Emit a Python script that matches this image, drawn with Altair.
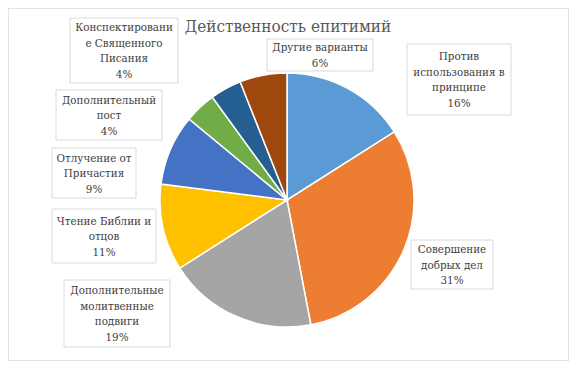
import altair as alt
import pandas as pd

# --- data ---
categories = [
    "Против использования в принципе",
    "Совершение добрых дел",
    "Дополнительные молитвенные подвиги",
    "Чтение Библии и отцов",
    "Отлучение от Причастия",
    "Дополнительный пост",
    "Конспектирование Священного Писания",
    "Другие варианты",
]
shares = [16, 31, 19, 11, 9, 4, 4, 6]
label_text = [
    "Против\nиспользования в\nпринципе",
    "Совершение\nдобрых дел",
    "Дополнительные\nмолитвенные\nподвиги",
    "Чтение Библии и\nотцов",
    "Отлучение от\nПричастия",
    "Дополнительный\nпост",
    "Конспектировани\nе Священного\nПисания",
    "Другие варианты",
]
colors = ["#5B9BD5", "#ED7D31", "#A5A5A5", "#FFC000", "#4472C4", "#70AD47", "#255E91", "#9E480E"]

# --- layout (label boxes, page pixel coords: x0, y0, x1, y1) ---
boxes = [
    (407, 44, 511, 115),
    (411, 240, 493, 289),
    (64, 280, 170, 347),
    (52, 209, 156, 263),
    (52, 148, 136, 198),
    (56, 90, 162, 140),
    (70, 18, 178, 83),
    (267, 39, 373, 71),
]
OFF = 8  # page margin
W, H = 561, 353
CX, CY, R = 287 - OFF, 200 - OFF, 127
LH = 15.5
SERIF = "DejaVu Serif Condensed"

labels = [t + "\n" + str(v) + "%" for t, v in zip(label_text, shares)]
nlines = [lab.count("\n") + 1 for lab in labels]

df = pd.DataFrame({
    "idx": list(range(len(categories))),
    "category": categories,
    "share": shares,
    "label": labels,
    "x0": [b[0] - OFF for b in boxes],
    "y0": [b[1] - OFF for b in boxes],
    "x1": [b[2] - OFF for b in boxes],
    "y1": [b[3] - OFF for b in boxes],
})
df["cx"] = (df["x0"] + df["x1"]) / 2
df["cy"] = (df["y0"] + df["y1"]) / 2 + 1 - pd.Series([(n - 1) * LH / 2 for n in nlines])

base = alt.Chart(df)

pie = base.mark_arc(outerRadius=R, stroke="white", strokeWidth=1.5).encode(
    theta=alt.Theta("share:Q", stack=True),
    order=alt.Order("idx:Q", sort="ascending"),
    color=alt.Color("category:N", scale=alt.Scale(domain=categories, range=colors), legend=None, sort=None),
    x=alt.value(CX),
    y=alt.value(CY),
)

box = base.mark_rect(fill="white", stroke="#D9D9D9", strokeWidth=1).encode(
    x=alt.X("x0:Q", scale=None),
    x2="x1:Q",
    y=alt.Y("y0:Q", scale=None),
    y2="y1:Q",
)

txt = base.mark_text(
    font=SERIF, fontSize=11.5, color="#404040",
    align="center", baseline="middle", lineBreak="\n", lineHeight=LH,
).encode(
    x=alt.X("cx:Q", scale=None),
    y=alt.Y("cy:Q", scale=None),
    text="label:N",
)

title = alt.Chart(pd.DataFrame({"t": ["Действенность епитимий"]})).mark_text(
    font=SERIF, fontSize=17, color="#595959", align="center", baseline="middle",
).encode(
    x=alt.value(288 - OFF),
    y=alt.value(27 - OFF),
    text="t:N",
)

chart = alt.layer(pie, box, txt, title).properties(
    width=W, height=H, padding=0, autosize=alt.AutoSizeParams(type="none"),
    background="white",
).configure_view(stroke="#D9D9D9", strokeWidth=1.5)

chart.save("out.html", embed_options={"renderer": "svg", "actions": False})
